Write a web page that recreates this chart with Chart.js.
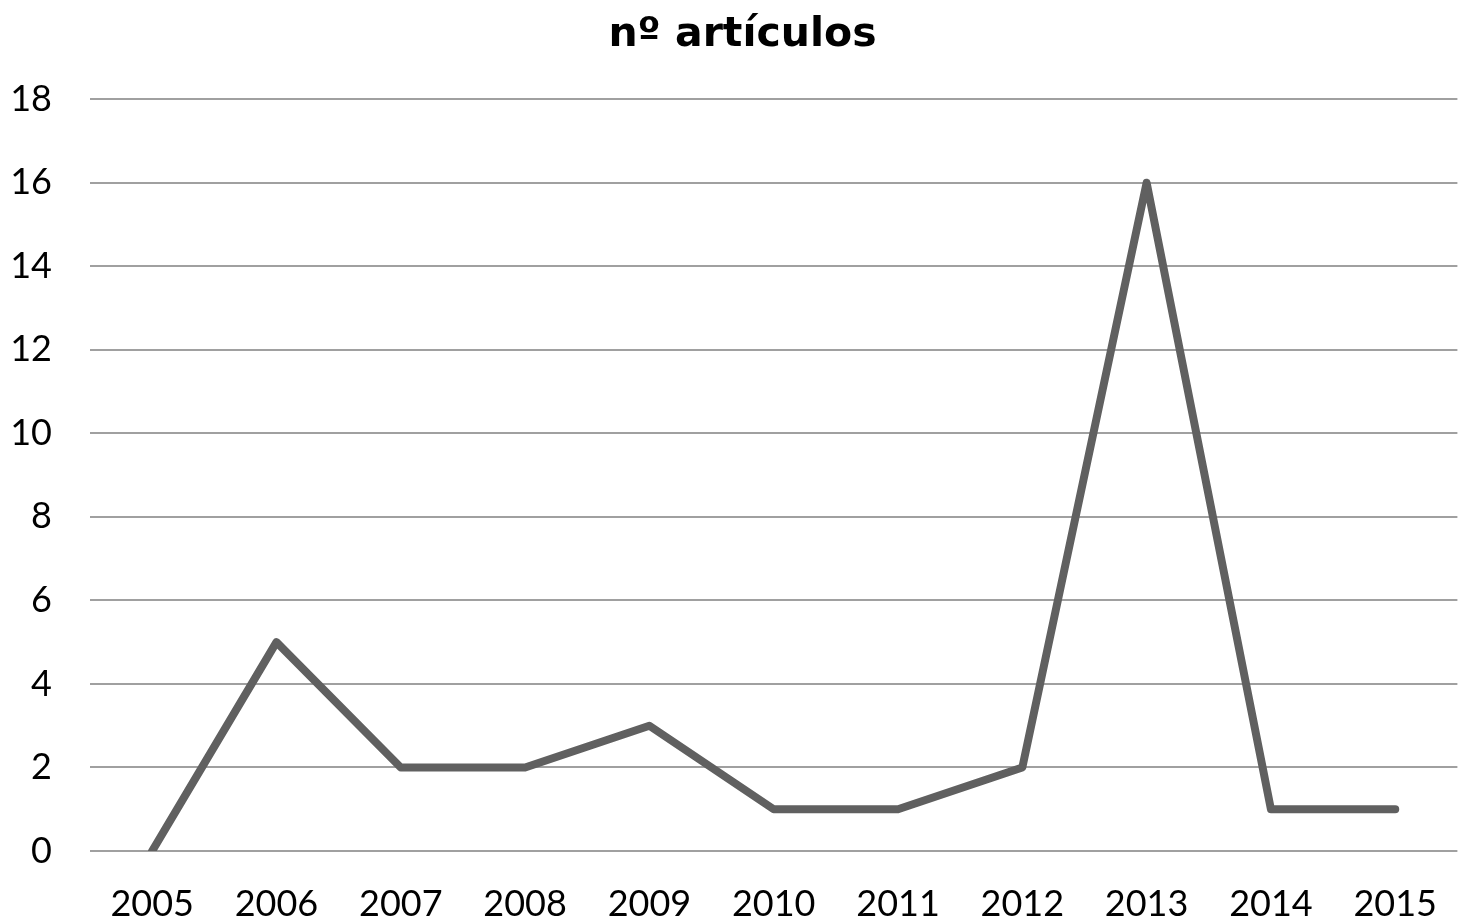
<!DOCTYPE html>
<html>
<head>
<meta charset="utf-8">
<script src="https://cdn.jsdelivr.net/npm/chart.js@4/dist/chart.umd.min.js"></script>
<style>
  html, body { margin: 0; padding: 0; background: #fff; }
  canvas { display: block; }
</style>
</head>
<body>
<canvas id="chartArticulos" width="1461" height="922"></canvas>
<script>
let years = ["2005", "2006", "2007", "2008", "2009", "2010", "2011", "2012", "2013", "2014", "2015"];
let articulos = [0, 5, 2, 2, 3, 1, 1, 2, 16, 1, 1];
let yTicks = [0, 2, 4, 6, 8, 10, 12, 14, 16, 18];

let fuente = "Lato, 'Noto Sans', sans-serif";

// nudge the title a bit right, the original is not centred on the canvas
let moverTitulo = {
    id: "moverTitulo",
    afterLayout(chart) {
        if (chart.titleBlock) chart.titleBlock.left = 24;
    }
};

let chartElement = document.querySelector("#chartArticulos").getContext("2d");
new Chart(chartElement, {
    type: 'line',
    data: {
        labels: years,
        datasets: [{
            label: "nº artículos",
            data: articulos,
            borderColor: "#606060",
            backgroundColor: "#606060",
            borderWidth: 8,
            tension: 0,
            pointRadius: 0,
            borderJoinStyle: "round",
            borderCapStyle: "round"
        }]
    },
    options: {
        responsive: false,
        animation: false,
        layout: { padding: { left: 0, right: 0, top: 0, bottom: 0 } },
        plugins: {
            legend: { display: false },
            tooltip: { enabled: false },
            title: {
                display: true,
                text: "nº artículos",
                color: "#000",
                font: { family: "'DejaVu Sans', sans-serif", size: 41, weight: "bold" },
                padding: { top: 11, bottom: 39 }
            }
        },
        scales: {
            x: {
                offset: true,
                grid: { display: false },
                border: { display: false },
                ticks: {
                    color: "#000",
                    font: { family: fuente, size: 36 },
                    padding: 24,
                    maxRotation: 0,
                    autoSkip: false
                },
                afterFit: (scale) => { scale.height = 71; }
            },
            y: {
                min: 0,
                max: 18,
                afterBuildTicks: (scale) => { scale.ticks = yTicks.map(v => ({ value: v })); },
                grid: { color: "#a0a0a0", lineWidth: 2, drawTicks: false },
                border: { display: false },
                ticks: {
                    color: "#000",
                    font: { family: fuente, size: 36 },
                    padding: 38
                },
                afterFit: (scale) => { scale.width = 90; }
            }
        }
    },
    plugins: [moverTitulo]
});
</script>
</body>
</html>
